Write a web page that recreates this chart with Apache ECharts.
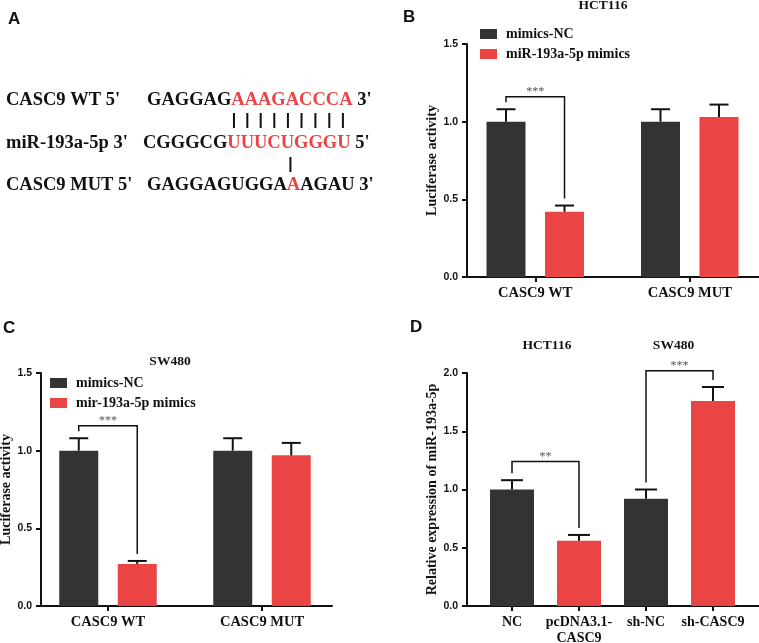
<!DOCTYPE html>
<html><head><meta charset="utf-8">
<script src="https://cdn.jsdelivr.net/npm/echarts/dist/echarts.min.js"></script>
<style>html,body{margin:0;padding:0;background:#fff}#c{width:759px;height:643px}</style>
</head><body><div id="c"></div>
<script>
// ---------- DATA ----------
// Panel B (HCT116)
const CAT_B = ['CASC9 WT', 'CASC9 MUT'];
const B_NC = [1.00, 1.00];
const B_NC_SD = [0.08, 0.08];
const B_MIM = [0.42, 1.03];
const B_MIM_SD = [0.04, 0.08];
const B_SIG = [{a: [0, 0], b: [0, 1], level: 1.16, text: '***'}];
const B_NAMES = ['mimics-NC', 'miR-193a-5p mimics'];

// Panel C (SW480)
const CAT_C = ['CASC9 WT', 'CASC9 MUT'];
const C_NC = [1.00, 1.00];
const C_NC_SD = [0.08, 0.08];
const C_MIM = [0.27, 0.97];
const C_MIM_SD = [0.02, 0.08];
const C_SIG = [{a: [0, 0], b: [0, 1], level: 1.16, text: '***'}];
const C_NAMES = ['mimics-NC', 'mir-193a-5p mimics'];

// Panel D
const CAT_D = ['NC', 'pcDNA3.1-\nCASC9', 'sh-NC', 'sh-CASC9'];
const D_VAL = [1.00, 0.56, 0.92, 1.76];
const D_SD = [0.08, 0.05, 0.08, 0.12];
const D_SIG = [{a: [0, 0], b: [1, 0], level: 1.24, text: '**'},
               {a: [2, 0], b: [3, 0], level: 2.02, text: '***'}];

// Y tick labels
const Y_TICKS_BC = [0, 0.5, 1.0, 1.5];
const Y_TICKS_D = [0, 0.5, 1.0, 1.5, 2.0];

// Panel A sequences
const SEQ_ROWS = [
  {label: "CASC9 WT 5'", parts: [['GAGGAG', 0], ['AAAGACCCA', 1]], end: " 3'"},
  {label: "miR-193a-5p 3'", parts: [['CGGGCG', 0], ['UUUCUGGGU', 1]], end: " 5'"},
  {label: "CASC9 MUT 5'", parts: [['GAGGAGUGGA', 0], ['A', 1], ['AGAU', 0]], end: " 3'"}
];
const PAIRS_12 = [6, 7, 8, 9, 10, 11, 12, 13, 14];
const PAIRS_23 = [10];

// ---------- STYLE ----------
const DARK = '#333333', RED = '#eb4444', INK = '#111111';
const SERIF = '"Liberation Serif", "Times New Roman", serif';
const SANS = '"Liberation Sans", Arial, sans-serif';

const chart = echarts.init(document.getElementById('c'), null, {renderer: 'canvas'});

function yRange(t) { return {min: t[0], max: t[t.length - 1], interval: t[1] - t[0]}; }

function frameGrid(g) { return Object.assign({outerBoundsMode: 'none', containLabel: false}, g); }

function frameX(gi) {
  return {type: 'value', gridIndex: gi, min: 0, max: 1, axisLine: {show: true, onZero: false, lineStyle: {color: INK, width: 2}},
    axisTick: {show: false}, axisLabel: {show: false}, splitLine: {show: false}};
}
function frameY(gi, ticks, name, nameSize, nameGap) {
  return Object.assign({type: 'value', gridIndex: gi,
    axisLine: {show: true, lineStyle: {color: INK, width: 2}},
    axisTick: {show: true, length: 5, lineStyle: {color: INK, width: 2}},
    axisLabel: {color: INK, fontFamily: SANS, fontWeight: 'bold', fontSize: 10.5, margin: 9,
      formatter: v => v.toFixed(1)},
    splitLine: {show: false},
    name: name, nameLocation: 'middle', nameGap: nameGap, nameRotate: 90,
    nameTextStyle: {color: INK, fontFamily: SERIF, fontWeight: 'bold', fontSize: nameSize}
  }, yRange(ticks));
}
function dataX(gi, cats, size, lh) {
  return {type: 'category', gridIndex: gi, data: cats,
    axisLine: {show: false}, axisTick: {show: true, alignWithLabel: true, length: 5, lineStyle: {color: INK, width: 2}},
    axisLabel: {color: INK, fontFamily: SERIF, fontWeight: 'bold', fontSize: size, margin: 8, lineHeight: lh, interval: 0},
    splitLine: {show: false}};
}
function dataY(gi, ticks) {
  return Object.assign({type: 'value', gridIndex: gi, show: false, splitLine: {show: false}}, yRange(ticks));
}

function errSeries(gi, means, sds, slot, nSlots, spacing, capW) {
  return {type: 'custom', xAxisIndex: gi, yAxisIndex: gi, clip: false, z: 5, silent: true,
    data: means.map((m, i) => [i, m, sds[i], slot]),
    renderItem: function (p, api) {
      const cat = api.value(0), m = api.value(1), sd = api.value(2), s = api.value(3);
      const b = api.coord([cat, m]);
      const t = api.coord([cat, m + sd]);
      const x = b[0] + (s - (nSlots - 1) / 2) * spacing;
      const st = {stroke: INK, lineWidth: 2};
      return {type: 'group', children: [
        {type: 'line', shape: {x1: x, y1: b[1], x2: x, y2: t[1]}, style: st},
        {type: 'line', shape: {x1: x - capW / 2, y1: t[1], x2: x + capW / 2, y2: t[1]}, style: st}
      ]};
    }};
}

function sigSeries(gi, sig, tops, nSlots, spacing) {
  return {type: 'custom', xAxisIndex: gi, yAxisIndex: gi, clip: false, z: 6, silent: true,
    data: sig.map(s => [s.a[0], s.a[1], s.b[0], s.b[1], s.level]),
    renderItem: function (p, api) {
      const s = sig[p.dataIndex];
      const ca = api.value(0), sa = api.value(1), cb = api.value(2), sb = api.value(3), lv = api.value(4);
      const pa = api.coord([ca, tops(ca, sa)]);
      const pb = api.coord([cb, tops(cb, sb)]);
      const yl = api.coord([ca, lv])[1];
      const xa = pa[0] + (sa - (nSlots - 1) / 2) * spacing;
      const xb = pb[0] + (sb - (nSlots - 1) / 2) * spacing;
      return {type: 'group', children: [
        {type: 'polyline', shape: {points: [[xa, pa[1] - 7], [xa, yl], [xb, yl], [xb, pb[1] - 7]]},
          style: {stroke: INK, lineWidth: 1.5, fill: null}},
        {type: 'text', x: (xa + xb) / 2, y: yl - 5,
          style: {text: s.text, fill: '#555', font: 'normal 12px ' + SERIF,
            textAlign: 'center', textVerticalAlign: 'middle', align: 'center', verticalAlign: 'middle'}}
      ]};
    }};
}

// ---------- Panel A graphics ----------
const seqFont = 'bold 18.5px ' + SERIF;
const meas = document.createElement('canvas').getContext('2d');
meas.font = seqFont;
const ROW_Y = [100, 143, 185];
const SEQ_X = [147, 143, 147];
const LABEL_X = 6;
const graphics = [];
function txt(x, y, s, font, fill, align, valign) {
  graphics.push({type: 'text', x: x, y: y, silent: true,
    style: {text: s, font: font, fill: fill || INK, textAlign: align || 'left', align: align || 'left',
      textVerticalAlign: valign || 'middle', verticalAlign: valign || 'middle'}});
}
const letterCenters = [];
SEQ_ROWS.forEach((r, ri) => {
  txt(LABEL_X, ROW_Y[ri], r.label, seqFont);
  let x = SEQ_X[ri];
  const full = r.parts.map(p => p[0]).join('');
  const centers = [];
  for (let i = 0; i < full.length; i++) {
    centers.push(SEQ_X[ri] + meas.measureText(full.slice(0, i)).width + meas.measureText(full[i]).width / 2);
  }
  letterCenters.push(centers);
  r.parts.forEach(p => {
    txt(x, ROW_Y[ri], p[0], seqFont, p[1] ? RED : INK);
    x += meas.measureText(p[0]).width;
  });
  txt(x, ROW_Y[ri], r.end, seqFont);
});
PAIRS_12.forEach(i => {
  const x = (letterCenters[0][i] + letterCenters[1][i]) / 2 - 2;
  graphics.push({type: 'line', silent: true, shape: {x1: x, y1: 113, x2: x, y2: 128}, style: {stroke: INK, lineWidth: 2}});
});
PAIRS_23.forEach(i => {
  const x = (letterCenters[1][i] + letterCenters[2][i]) / 2;
  graphics.push({type: 'line', silent: true, shape: {x1: x, y1: 157, x2: x, y2: 172}, style: {stroke: INK, lineWidth: 2}});
});

// panel letters
const letterFont = 'bold 17px ' + SANS;
txt(8, 19, 'A', letterFont);
txt(403, 17.5, 'B', letterFont);
txt(3, 328, 'C', letterFont);
txt(410, 327.5, 'D', letterFont);
// titles
const titleFont = 'bold 13.5px ' + SERIF;
txt(603, 6, 'HCT116', titleFont, INK, 'center');
txt(170, 362, 'SW480', titleFont, INK, 'center');
txt(547, 346, 'HCT116', titleFont, INK, 'center');
txt(673.5, 346, 'SW480', titleFont, INK, 'center');

// ---------- OPTION ----------
const SP = 58.5; // bar centre spacing inside a group (B, C)
const legendText = {color: INK, fontFamily: SERIF, fontWeight: 'bold', fontSize: 14, lineHeight: 14, padding: [0, 0, 0, 4]};

const option = {
  animation: false,
  backgroundColor: '#fff',
  grid: [
    frameGrid({left: 467, top: 44, width: 292, height: 233}),
    frameGrid({left: 458, top: 44, width: 309, height: 233}),
    frameGrid({left: 41, top: 373, width: 291, height: 233}),
    frameGrid({left: 31, top: 373, width: 308, height: 233}),
    frameGrid({left: 467, top: 373, width: 292, height: 233}),
    frameGrid({left: 478.5, top: 373, width: 268, height: 233})
  ],
  xAxis: [frameX(0), dataX(1, CAT_B, 14.5, 16), frameX(2), dataX(3, CAT_C, 14.5, 16), frameX(4), dataX(5, CAT_D, 14, 16.5)],
  yAxis: [frameY(0, Y_TICKS_BC, 'Luciferase activity', 14, 27), dataY(1, Y_TICKS_BC),
          frameY(2, Y_TICKS_BC, 'Luciferase activity', 14, 27), dataY(3, Y_TICKS_BC),
          frameY(4, Y_TICKS_D, 'Relative expression of miR-193a-5p', 14, 27), dataY(5, Y_TICKS_D)],
  legend: [
    {left: 480, top: 27, padding: 0, orient: 'vertical', icon: 'rect', itemWidth: 17, itemHeight: 10, itemGap: 6,
      data: B_NAMES, textStyle: legendText, selectedMode: false},
    {left: 50, top: 376, padding: 0, orient: 'vertical', icon: 'rect', itemWidth: 17, itemHeight: 10, itemGap: 6,
      data: C_NAMES, textStyle: legendText, selectedMode: false}
  ],
  graphic: {elements: graphics},
  series: [
    {name: B_NAMES[0], type: 'bar', xAxisIndex: 1, yAxisIndex: 1, data: B_NC, barWidth: 39, barGap: '50%', itemStyle: {color: DARK}, silent: true},
    {name: B_NAMES[1], type: 'bar', xAxisIndex: 1, yAxisIndex: 1, data: B_MIM, barWidth: 39, barGap: '50%', itemStyle: {color: RED}, silent: true},
    errSeries(1, B_NC, B_NC_SD, 0, 2, SP, 19),
    errSeries(1, B_MIM, B_MIM_SD, 1, 2, SP, 19),
    sigSeries(1, B_SIG, (c, s) => s === 0 ? B_NC[c] + B_NC_SD[c] : B_MIM[c] + B_MIM_SD[c], 2, SP),

    {name: C_NAMES[0], type: 'bar', xAxisIndex: 3, yAxisIndex: 3, data: C_NC, barWidth: 39, barGap: '50%', itemStyle: {color: DARK}, silent: true},
    {name: C_NAMES[1], type: 'bar', xAxisIndex: 3, yAxisIndex: 3, data: C_MIM, barWidth: 39, barGap: '50%', itemStyle: {color: RED}, silent: true},
    errSeries(3, C_NC, C_NC_SD, 0, 2, SP, 19),
    errSeries(3, C_MIM, C_MIM_SD, 1, 2, SP, 19),
    sigSeries(3, C_SIG, (c, s) => s === 0 ? C_NC[c] + C_NC_SD[c] : C_MIM[c] + C_MIM_SD[c], 2, SP),

    {name: 'D', type: 'bar', xAxisIndex: 5, yAxisIndex: 5, barWidth: 44, silent: true,
      data: D_VAL.map((v, i) => ({value: v, itemStyle: {color: i % 2 === 0 ? DARK : RED}}))},
    errSeries(5, D_VAL, D_SD, 0, 1, 0, 22),
    sigSeries(5, D_SIG, (c, s) => D_VAL[c] + D_SD[c], 1, 0)
  ]
};
chart.setOption(option);
</script>
</body></html>
